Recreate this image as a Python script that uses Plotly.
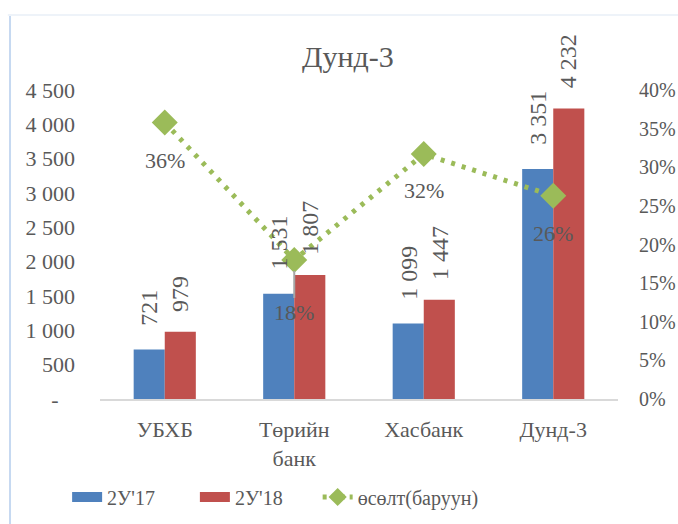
import plotly.graph_objects as go

categories = ["УБХБ", "Төрийн<br>банк", "Хасбанк", "Дунд-3"]
y2017 = [721, 1531, 1099, 3351]
y2018 = [979, 1807, 1447, 4232]
growth = [0.358, 0.180, 0.317, 0.263]
growth_labels = ["36%", "18%", "32%", "26%"]
left_ticks = [0, 500, 1000, 1500, 2000, 2500, 3000, 3500, 4000, 4500]
left_ticktext = ["-\u00a0\u00a0\u00a0", "500", "1 000", "1 500", "2 000", "2 500", "3 000", "3 500", "4 000", "4 500"]
right_ticks = [0, 0.05, 0.10, 0.15, 0.20, 0.25, 0.30, 0.35, 0.40]
right_ticktext = ["0%", "5%", "10%", "15%", "20%", "25%", "30%", "35%", "40%"]
legend_names = ["2У'17", "2У'18", "өсөлт(баруун)"]

BLUE = "#4F81BD"
RED = "#C0504D"
GREEN = "#9BBB59"
TXT = "#595959"
FONT = "Times New Roman, Liberation Serif, serif"
PAD1 = "\u00a0" * 7
PAD2 = "\u00a0" * 6

def fmt(v):
    return f"{v:,}".replace(",", " ")

fig = go.Figure()
fig.add_trace(go.Bar(x=categories, y=y2017, name=legend_names[0], marker_color=BLUE,
                     marker_line_width=0, showlegend=False, yaxis="y"))
fig.add_trace(go.Bar(x=categories, y=y2018, name=legend_names[1], marker_color=RED,
                     marker_line_width=0, showlegend=False, yaxis="y"))
fig.add_trace(go.Scatter(x=categories, y=growth, name=legend_names[2], yaxis="y2",
                         mode="lines+markers", showlegend=False,
                         line=dict(color=GREEN, width=5, dash="4px,7px"),
                         marker=dict(symbol="diamond", size=20, color=GREEN)))

# legend proxies
fig.add_trace(go.Scatter(x=[None], y=[None], name=legend_names[0] + PAD1, mode="lines",
                         line=dict(color=BLUE, width=12)))
fig.add_trace(go.Scatter(x=[None], y=[None], name=legend_names[1] + PAD2, mode="lines",
                         line=dict(color=RED, width=12)))
fig.add_trace(go.Scatter(x=[None], y=[None], name=legend_names[2], mode="lines+markers",
                         line=dict(color=GREEN, width=5, dash="4px,5px"),
                         marker=dict(symbol="diamond", size=14, color=GREEN)))

annotations = []
bar_shift = 15.5
for c, a, b in zip(categories, y2017, y2018):
    annotations.append(dict(x=c, y=a, xref="x", yref="y", text=fmt(a), showarrow=False,
                            textangle=-90, xshift=-bar_shift, yshift=22, yanchor="bottom",
                            font=dict(family=FONT, size=24, color=TXT)))
    annotations.append(dict(x=c, y=b, xref="x", yref="y", text=fmt(b), showarrow=False,
                            textangle=-90, xshift=bar_shift, yshift=18, yanchor="bottom",
                            font=dict(family=FONT, size=24, color=TXT)))
label_shift = [-38, -53, -36, -38]
for c, g, t, s in zip(categories, growth, growth_labels, label_shift):
    annotations.append(dict(x=c, y=g, xref="x", yref="y2", text=t, showarrow=False,
                            yshift=s, font=dict(family=FONT, size=22, color=TXT)))

fig.update_layout(
    width=678, height=524,
    margin=dict(l=100, r=60, t=90, b=125, autoexpand=False),
    paper_bgcolor="white", plot_bgcolor="white",
    font=dict(family=FONT, size=22, color=TXT),
    title=dict(text="Дунд-3", x=0.513, xanchor="center", y=0.892, yanchor="middle",
               font=dict(family=FONT, size=30, color=TXT)),
    barmode="group", bargap=0.52, bargroupgap=0,
    xaxis=dict(showgrid=False, showline=True, linecolor="#D9D9D9", linewidth=1.5,
               ticks="", ticklabelstandoff=10, automargin=False,
               tickfont=dict(family=FONT, size=22, color=TXT)),
    yaxis=dict(range=[0, 4500], tickvals=left_ticks, ticktext=left_ticktext,
               showgrid=False, zeroline=False, showline=False, ticks="",
               ticklabelstandoff=24, automargin=False,
               tickfont=dict(family=FONT, size=22, color=TXT)),
    yaxis2=dict(range=[0, 0.40], tickvals=right_ticks, ticktext=right_ticktext,
                overlaying="y", side="right", showgrid=False, zeroline=False,
                showline=False, ticks="", ticklabelstandoff=20, automargin=False,
                tickfont=dict(family=FONT, size=20, color=TXT)),
    legend=dict(orientation="h", xref="container", x=0.099, xanchor="left",
                yref="container", y=0.0515, yanchor="middle",
                font=dict(family=FONT, size=20, color=TXT), traceorder="normal",
                bgcolor="rgba(0,0,0,0)"),
    annotations=annotations,
    shapes=[
        dict(type="line", xref="paper", yref="paper", x0=-0.1737, x1=-0.1737,
             y0=1.2427, y1=-0.41, line=dict(color="#C6D9F1", width=2)),
        dict(type="line", xref="paper", yref="paper", x0=-0.178, x1=1.12,
             y0=1.2427, y1=1.2427, line=dict(color="#EEF3F9", width=2)),
        dict(type="line", xref="x", yref="y2", x0=categories[1], x1=categories[1],
             ysizemode="pixel", yanchor=growth[1], y0=-11, y1=-38,
             line=dict(color="#A6A6A6", width=2), layer="above"),
    ],
)
fig.write_html("out.html", config={"displayModeBar": False},
               post_script="document.body.style.margin='0';")
